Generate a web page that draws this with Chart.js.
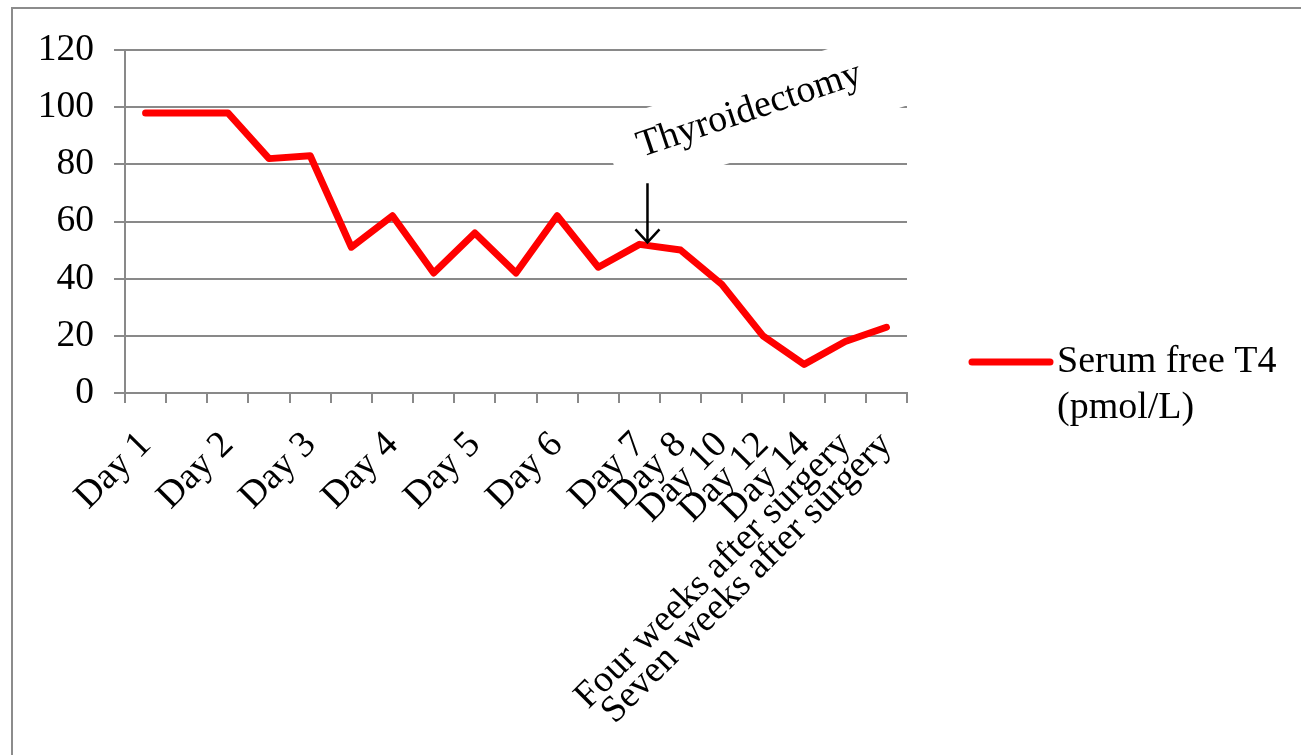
<!DOCTYPE html>
<html lang="en">
<head>
<meta charset="utf-8" />
<title>Serum free T4</title>
<style>
  html, body { margin: 0; padding: 0; background: #ffffff; overflow: hidden; }
  .frame {
    position: absolute; left: 11px; top: 7px;
    width: 1400px; height: 900px;
    border: 2px solid #8c8c8c;
  }
  .wrap { position: absolute; left: 0; top: 0; width: 1301px; height: 755px; }
</style>
</head>
<body>
<div class="frame"></div>
<div class="wrap"><canvas id="t4Chart" width="1301" height="755"></canvas></div>

<script src="https://cdn.jsdelivr.net/npm/chart.js"></script>
<script>
// two readings a day up to day 7, then single readings
const categories = [
  "Day 1", "", "Day 2", "", "Day 3", "", "Day 4", "", "Day 5", "", "Day 6", "",
  "Day 7", "Day 8", "Day 10", "Day 12", "Day 14",
  "Four weeks after surgery", "Seven weeks after surgery"
];
const freeT4 = [98, 98, 98, 82, 83, 51, 62, 42, 56, 42, 62, 44, 52, 50, 38, 20, 10, 18, 23];
const yTicks = [0, 20, 40, 60, 80, 100, 120];
const seriesName = ["Serum free T4", "(pmol/L)"];
const surgeryIndex = 12;
const surgeryLabel = "Thyroidectomy";

const serif = "'Liberation Serif', 'Times New Roman', serif";
const gridGray = "#898989";
const deg = Math.PI / 180;

// white rotated call-out box, text and arrow pointing at the surgery reading
const surgeryNote = {
  id: "surgeryNote",
  beforeDatasetsDraw(chart) {
    const p = chart.getDatasetMeta(0).data[surgeryIndex];
    const ctx = chart.ctx;
    ctx.save();
    ctx.translate(p.x + 123, p.y - 133);
    ctx.rotate(-18 * deg);
    ctx.fillStyle = "#ffffff";
    ctx.fillRect(-158, -39, 318, 78);
    ctx.restore();
  },
  afterDatasetsDraw(chart) {
    const p = chart.getDatasetMeta(0).data[surgeryIndex];
    const ctx = chart.ctx;
    ctx.save();
    ctx.translate(p.x + 110, p.y - 134);
    ctx.rotate(-18.5 * deg);
    ctx.fillStyle = "#000000";
    ctx.font = "38px " + serif;
    ctx.textAlign = "center";
    ctx.textBaseline = "middle";
    ctx.fillText(surgeryLabel, 0, 0);
    ctx.restore();

    const ax = p.x + 8, tipY = p.y - 2;
    ctx.save();
    ctx.strokeStyle = "#000000";
    ctx.lineWidth = 2.5;
    ctx.beginPath();
    ctx.moveTo(ax, p.y - 61);
    ctx.lineTo(ax, tipY);
    ctx.moveTo(ax - 12, tipY - 13);
    ctx.lineTo(ax, tipY);
    ctx.lineTo(ax + 12, tipY - 13);
    ctx.stroke();
    ctx.restore();
  }
};

// legend at the right, label on two lines
const sideLegend = {
  id: "sideLegend",
  afterDraw(chart) {
    const ds = chart.data.datasets[0];
    const area = chart.chartArea;
    const ctx = chart.ctx;
    const x0 = area.right + 65, y0 = area.bottom - 31;
    ctx.save();
    ctx.strokeStyle = ds.borderColor;
    ctx.lineWidth = 7;
    ctx.lineCap = "round";
    ctx.beginPath();
    ctx.moveTo(x0, y0);
    ctx.lineTo(x0 + 78, y0);
    ctx.stroke();
    ctx.fillStyle = "#000000";
    ctx.font = "38px " + serif;
    ctx.textBaseline = "middle";
    seriesName.forEach((line, i) => ctx.fillText(line, x0 + 85, y0 + i * 46));
    ctx.restore();
  }
};

new Chart(document.getElementById("t4Chart"), {
  type: "line",
  data: {
    labels: categories,
    datasets: [{
      label: seriesName.join(" "),
      data: freeT4,
      borderColor: "#ff0000",
      borderWidth: 7,
      borderCapStyle: "round",
      borderJoinStyle: "round",
      pointRadius: 0,
      tension: 0,
      fill: false
    }]
  },
  options: {
    responsive: false,
    animation: false,
    layout: { padding: { top: 50, right: 394, left: 0, bottom: 0 } },
    plugins: { legend: { display: false }, tooltip: { enabled: false } },
    scales: {
      x: {
        offset: true,
        grid: { offset: true, drawOnChartArea: false, drawTicks: true, tickLength: 10, color: gridGray, lineWidth: 2 },
        border: { color: gridGray, width: 2 },
        ticks: {
          autoSkip: false, minRotation: 45, maxRotation: 45,
          color: "#000000", padding: 20,
          font: { family: serif, size: 37.5 }
        },
        afterFit: (s) => { s.height = 362; }
      },
      y: {
        min: 0, max: 120,
        grid: { color: gridGray, lineWidth: 2, tickLength: 11 },
        border: { color: gridGray, width: 2 },
        ticks: { color: "#000000", padding: 20, font: { family: serif, size: 37.5 } },
        afterBuildTicks: (s) => { s.ticks = yTicks.map((v) => ({ value: v })); },
        afterFit: (s) => { s.width = 125; }
      }
    }
  },
  plugins: [surgeryNote, sideLegend]
});
</script>
</body>
</html>
